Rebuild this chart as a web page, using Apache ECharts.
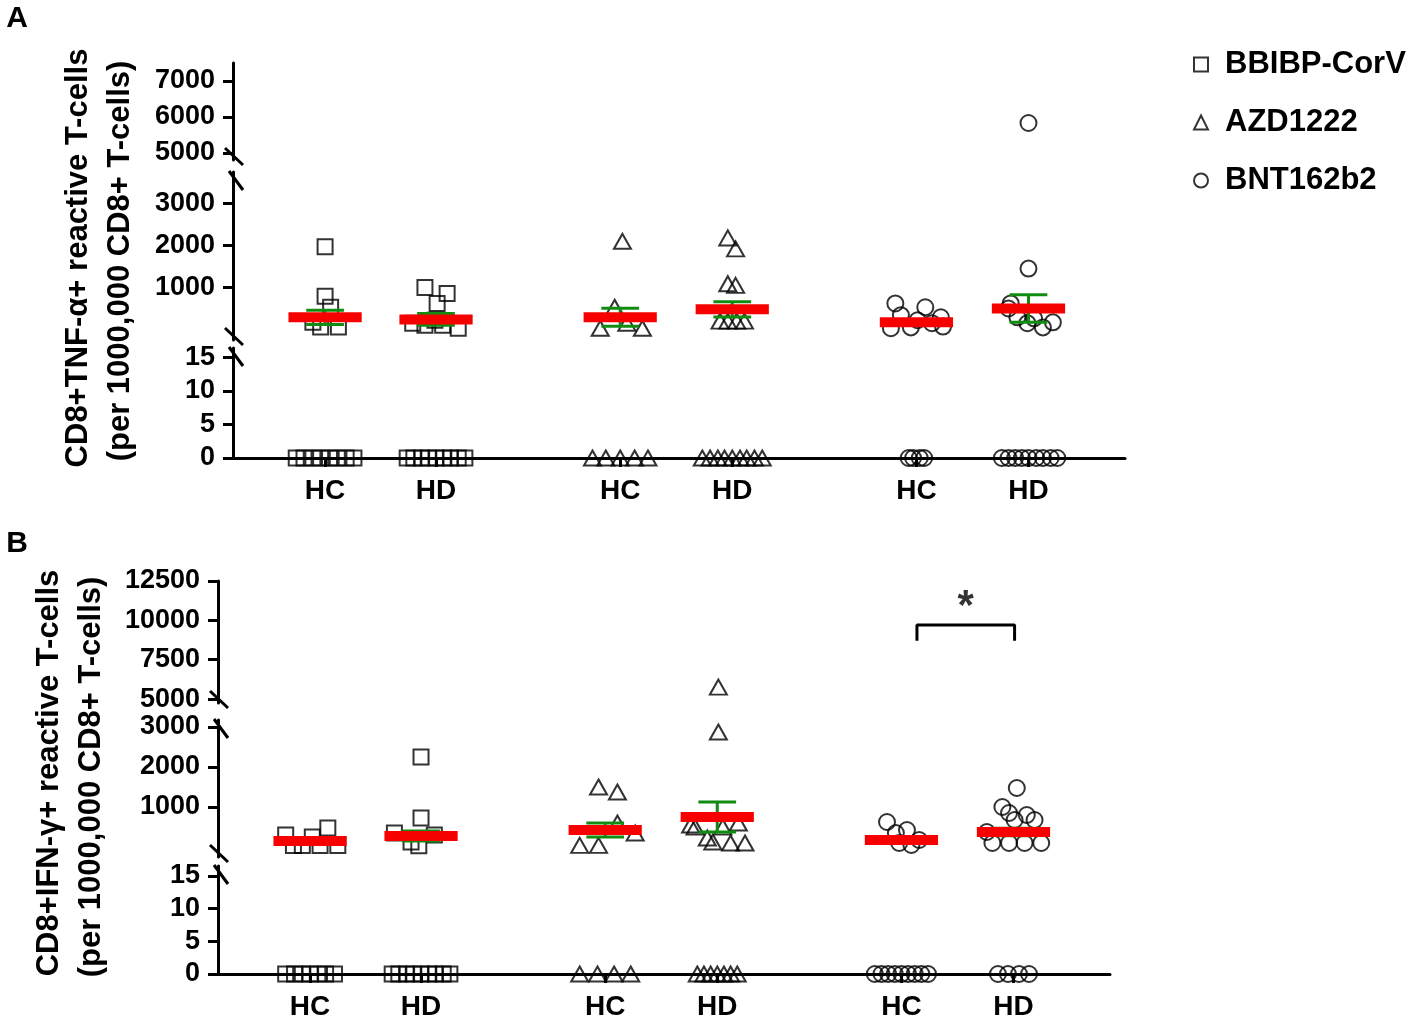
<!DOCTYPE html>
<html>
<head>
<meta charset="utf-8">
<script src="https://cdn.jsdelivr.net/npm/echarts@6/dist/echarts.min.js"></script>
<style>
html,body{margin:0;padding:0;background:#fff}
#chart{width:1418px;height:1025px}
</style>
</head>
<body>
<div id="chart"></div>
<script>
// group centres on the x axis (in group widths) and their labels
var groupPos = [0.83, 1.83, 3.49, 4.50, 6.16, 7.17];
var groupLabels = ['HC', 'HD', 'HC', 'HD', 'HC', 'HD'];
var vaccines = ['BBIBP-CorV', 'AZD1222', 'BNT162b2'];

// points: [jitter, value]
// A: CD8+TNF-a+
var tnfBBIBP_HC = [[0,1970],[0,790],[0.05,530],[-0.11,170],[-0.04,60],[0.12,60],
  [-0.26,0],[-0.19,0],[-0.11,0],[-0.04,0],[0.04,0],[0.11,0],[0.19,0],[0.26,0]];
var tnfBBIBP_HD = [[-0.1,1000],[0.1,860],[0.01,620],[-0.21,150],[-0.1,100],[0.06,100],[0.2,30],[-0.01,220],
  [-0.26,0],[-0.2,0],[-0.13,0],[-0.07,0],[0,0],[0.07,0],[0.13,0],[0.2,0],[0.26,0]];
var tnfAZD_HC = [[0.02,2100],[-0.05,530],[-0.18,30],[0.2,30],[0.06,150],
  [-0.25,0],[-0.13,0],[0,0],[0.13,0],[0.25,0]];
var tnfAZD_HD = [[-0.04,2180],[0.03,1920],[-0.04,1090],[0.03,1050],[-0.11,200],[-0.04,200],[0.04,200],[0.11,200],
  [-0.27,0],[-0.2,0],[-0.13,0],[-0.07,0],[0,0],[0.07,0],[0.13,0],[0.2,0],[0.27,0]];
var tnfBNT_HC = [[-0.19,620],[0.08,530],[-0.23,30],[-0.05,50],[0.22,290],[-0.14,340],[0.01,220],[0.24,70],[0.14,150],
  [-0.07,0],[-0.03,0],[0.03,0],[0.07,0]];
var tnfBNT_HD = [[0,5830],[0,1450],[-0.18,500],[-0.1,290],[-0.01,150],[0.13,50],[0.22,170],[0.05,265],[-0.16,620],
  [-0.24,0],[-0.18,0],[-0.12,0],[-0.06,0],[0,0],[0.07,0],[0.13,0],[0.2,0],[0.26,0]];
var tnfMean = [290, 240, 290, 480, 170, 500];
var tnfSem = [170, 140, 215, 180, 50, 330];

// B: CD8+IFN-g+
var ifnBBIBP_HC = [[-0.22,300],[-0.15,40],[0.02,250],[0.16,475],[0.25,40],[0.09,40],[-0.07,40],
  [-0.22,0],[-0.14,0],[-0.07,0],[0,0],[0.07,0],[0.14,0],[0.22,0]];
var ifnBBIBP_HD = [[0,2250],[0,725],[0.12,300],[-0.24,350],[-0.02,30],[-0.09,125],
  [-0.26,0],[-0.2,0],[-0.13,0],[-0.07,0],[0,0],[0.07,0],[0.13,0],[0.2,0],[0.26,0]];
var ifnAZD_HC = [[-0.06,1500],[0.11,1375],[0.11,600],[0.27,350],[-0.23,40],[-0.06,40],
  [-0.23,0],[-0.07,0],[0.08,0],[0.23,0]];
var ifnAZD_HD = [[0.01,5760],[0.01,2875],[-0.24,550],[-0.2,500],[-0.09,225],[-0.04,125],[0.12,100],[0.25,100],[0.19,600],[0.05,500],
  [-0.18,0],[-0.12,0],[-0.06,0],[0,0],[0.06,0],[0.12,0],[0.18,0]];
var ifnBNT_HC = [[-0.13,625],[-0.05,350],[0.05,425],[-0.02,100],[0.09,50],[0.16,175],
  [-0.24,0],[-0.18,0],[-0.12,0],[-0.06,0],[0,0],[0.06,0],[0.12,0],[0.18,0],[0.24,0]];
var ifnBNT_HD = [[0.03,1475],[-0.1,1000],[-0.04,850],[0.12,800],[0.19,675],[0.01,675],[-0.24,375],[-0.19,100],[-0.04,100],[0.1,100],[0.25,100],
  [-0.14,0],[-0.05,0],[0.05,0],[0.14,0]];
var ifnMean = [150, 275, 425, 750, 175, 375];
var ifnSem = [70, 125, 175, 375, 55, 95];

// significance bracket HC vs HD (BNT162b2, panel B)
var sigX = [6.30, 7.18];
var sigY = [8700, 9700];
var sigStar = [6.74, 11300];

// y ticks of the broken axes
var tnfTicks = [[5000,6000,7000],[1000,2000,3000],[0,5,10,15]];
var ifnTicks = [[5000,7500,10000,12500],[1000,2000,3000],[0,5,10,15]];

var panels = [
  { groups: [tnfBBIBP_HC, tnfBBIBP_HD, tnfAZD_HC, tnfAZD_HD, tnfBNT_HC, tnfBNT_HD], mean: tnfMean, sem: tnfSem, ticks: tnfTicks,
    left: 233, segs: [{top:63,height:97,min:4800,max:7500},{top:172,height:168,min:-250,max:3750},{top:348,height:110,min:0,max:16.4}] },
  { groups: [ifnBBIBP_HC, ifnBBIBP_HD, ifnAZD_HC, ifnAZD_HD, ifnBNT_HC, ifnBNT_HD], mean: ifnMean, sem: ifnSem, ticks: ifnTicks,
    left: 218, segs: [{top:581,height:122,min:4750,max:12500},{top:720,height:137,min:-250,max:3175},{top:866,height:108,min:0,max:16.5}] }
];

var FONT = '"Liberation Sans", Arial, sans-serif';
var symbols = ['rect', 'triangle', 'circle'];
var symSizes = [15, [17, 15], 16];
var hollow = { color: 'rgba(0,0,0,0)', borderColor: '#000', borderWidth: 2 };
var xMax = 8.04;

var grid = [], xAxis = [], yAxis = [], series = [], graphic = [];

panels.forEach(function(p, pi) {
  p.segs.forEach(function(s, si) {
    var gi = pi * 3 + si;
    var bottom = si == 2;
    grid.push({ left: p.left, width: 892, top: s.top, height: s.height });
    xAxis.push({
      gridIndex: gi, type: 'value', min: 0, max: xMax, show: bottom,
      axisLine: { show: true, onZero: false, lineStyle: { color: '#000', width: 3 } },
      axisTick: { show: true, customValues: groupPos, length: 9, lineStyle: { color: '#000', width: 3 } },
      axisLabel: { customValues: groupPos, margin: 19, color: '#000', fontSize: 28, fontWeight: 'bold', fontFamily: FONT,
        formatter: function(v) { var i = groupPos.indexOf(v); return i < 0 ? '' : groupLabels[i]; } },
      splitLine: { show: false }
    });
    yAxis.push({
      gridIndex: gi, type: 'value', min: s.min, max: s.max,
      axisLine: { show: true, onZero: false, lineStyle: { color: '#000', width: 3 } },
      axisTick: { show: true, customValues: p.ticks[si], length: 10, lineStyle: { color: '#000', width: 3 } },
      axisLabel: { customValues: p.ticks[si], margin: 18, color: '#000', fontSize: 27, fontWeight: 'bold', fontFamily: FONT,
        formatter: function(v) { return String(v); } },
      splitLine: { show: false }
    });
    // axis break marks
    var ax = p.left;
    if (si > 0) {
      graphic.push({ type: 'line', shape: { x1: ax - 4, y1: s.top - 1, x2: ax + 10, y2: s.top + 18 }, style: { stroke: '#000', lineWidth: 3 } });
    }
    if (si < 2) {
      var yb = s.top + s.height;
      graphic.push({ type: 'line', shape: { x1: ax - 8, y1: yb - 12, x2: ax + 10, y2: yb + 5 }, style: { stroke: '#000', lineWidth: 3 } });
    }
  });

  // scatter points, split by axis segment
  vaccines.forEach(function(name, vi) {
    var segData = [[], [], []];
    [0, 1].forEach(function(k) {
      var g = vi * 2 + k;
      p.groups[g].forEach(function(pt) {
        var v = pt[1];
        var si = v < 17 ? 2 : (v < p.segs[0].min ? 1 : 0);
        segData[si].push([groupPos[g] + pt[0], v]);
      });
    });
    segData.forEach(function(d, si) {
      if (!d.length) return;
      series.push({
        type: 'scatter', name: name, xAxisIndex: pi * 3 + si, yAxisIndex: pi * 3 + si,
        symbol: symbols[vi], symbolSize: symSizes[vi], itemStyle: hollow, data: d,
        clip: false, silent: true, z: 2
      });
    });
  });

  // mean (red) and SEM (green) on the middle segment
  series.push({
    type: 'custom', xAxisIndex: pi * 3 + 1, yAxisIndex: pi * 3 + 1, z: 3, silent: true, clip: false,
    data: groupPos.map(function(x, i) { return [x, p.mean[i], p.sem[i]]; }),
    renderItem: function(params, api) {
      var x = api.value(0), m = api.value(1), e = api.value(2);
      var c = api.coord([x, m]), hi = api.coord([x, m + e]), lo = api.coord([x, m - e]);
      var w = api.size([0.66, 0])[0], cw = api.size([0.34, 0])[0];
      var green = { stroke: '#108c10', lineWidth: 3 };
      return { type: 'group', children: [
        { type: 'line', shape: { x1: c[0], y1: hi[1], x2: c[0], y2: lo[1] }, style: green },
        { type: 'line', shape: { x1: c[0] - cw / 2, y1: hi[1], x2: c[0] + cw / 2, y2: hi[1] }, style: green },
        { type: 'line', shape: { x1: c[0] - cw / 2, y1: lo[1], x2: c[0] + cw / 2, y2: lo[1] }, style: green },
        { type: 'rect', shape: { x: c[0] - w / 2, y: c[1] - 5, width: w, height: 10 }, style: { fill: '#f70000' } }
      ] };
    }
  });
});

// significance bracket and star
series.push({
  type: 'line', xAxisIndex: 3, yAxisIndex: 3, symbol: 'none', silent: true,
  data: [[sigX[0], sigY[0]], [sigX[0], sigY[1]], [sigX[1], sigY[1]], [sigX[1], sigY[0]]],
  lineStyle: { color: '#000', width: 3 }
});
series.push({
  type: 'scatter', xAxisIndex: 3, yAxisIndex: 3, symbolSize: 1, silent: true,
  itemStyle: { color: 'rgba(0,0,0,0)' }, data: [sigStar],
  label: { show: true, position: 'inside', formatter: '*', fontSize: 42, fontWeight: 'bold', color: '#000', fontFamily: FONT, offset: [0, 8] }
});

// panel letters and y titles
function txt(t, x, y, size, rot) {
  return { type: 'text', x: x, y: y, rotation: rot || 0,
    style: { text: t, font: 'bold ' + size + 'px ' + FONT, fill: '#000', align: 'center', verticalAlign: 'middle', textAlign: 'center', textVerticalAlign: 'middle' } };
}
graphic.push(txt('A', 17, 19, 30));
graphic.push(txt('B', 17, 544, 30));
graphic.push(txt('CD8+TNF-\u03b1+ reactive T-cells', 78, 258, 31, Math.PI / 2));
graphic.push(txt('(per 1000,000 CD8+ T-cells)', 120, 261, 31, Math.PI / 2));
graphic.push(txt('CD8+IFN-\u03b3+ reactive T-cells', 49, 773, 31, Math.PI / 2));
graphic.push(txt('(per 1000,000 CD8+ T-cells)', 91, 777, 31, Math.PI / 2));

var chart = echarts.init(document.getElementById('chart'));
chart.setOption({
  animation: false,
  backgroundColor: '#fff',
  grid: grid,
  xAxis: xAxis,
  yAxis: yAxis,
  legend: {
    orient: 'vertical', left: 1188, top: 44, itemWidth: 14, itemHeight: 14, itemGap: 27,
    selectedMode: false,
    textStyle: { fontSize: 31, fontWeight: 'bold', fontFamily: FONT, color: '#000', padding: [0, 0, 0, 12] },
    data: vaccines.map(function(n, i) {
      return { name: n, icon: symbols[i], itemStyle: { color: 'rgba(0,0,0,0)', borderColor: '#000', borderWidth: 2 } };
    })
  },
  graphic: graphic,
  series: series
});
</script>
</body>
</html>
